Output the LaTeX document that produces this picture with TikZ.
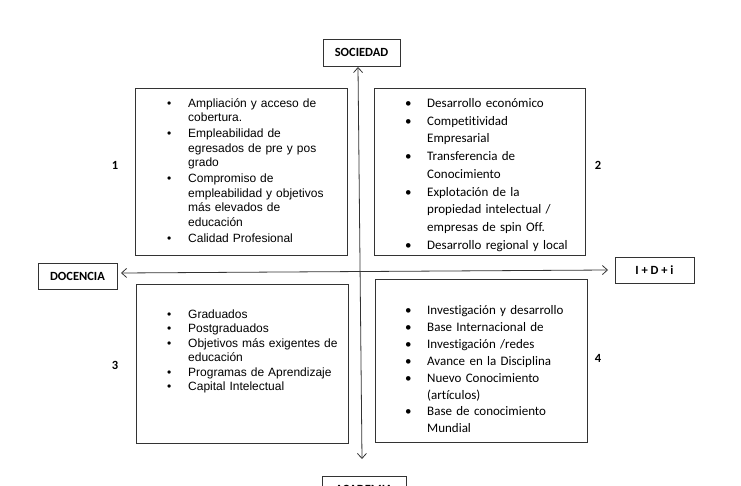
\documentclass[tikz,border=0pt]{standalone}
\usepackage{fontspec}
\usetikzlibrary{arrows.meta}
\newfontfamily\arialf{Liberation Sans}
\newfontfamily\calf[Ligatures=NoCommon]{Carlito}
\newcommand{\bulA}{\makebox[21pt][l]{•}}
\newcommand{\indA}{\hspace*{21pt}}
\newcommand{\bulC}{\makebox[22pt][l]{•}}
\newcommand{\indC}{\hspace*{22pt}}
\tikzset{
  frame/.style={draw=black!80, line width=0.9pt, inner sep=0pt},
  label/.style={draw=black!80, line width=0.9pt, inner sep=0pt,
    font=\calf\bfseries\fontsize{12.5}{14}\selectfont},
  num/.style={inner sep=0pt, font=\calf\bfseries\fontsize{12.5}{14}\selectfont},
  listA/.style={inner sep=0pt, anchor=base west, text width=200pt, align=left,
    font=\arialf\fontsize{12}{14.5}\selectfont},
  listC/.style={inner sep=0pt, anchor=base west, text width=200pt, align=left,
    font=\calf\fontsize{13}{17.75}\selectfont},
  axis/.style={draw=black!80, line width=0.8pt,
    {Straight Barb[length=5pt,width=9pt]}-{Straight Barb[length=5pt,width=9pt]}}
}
\begin{document}
\begin{tikzpicture}[x=1pt,y=-1pt]
\useasboundingbox (0,0) rectangle (741,486);
\clip (0,0) rectangle (741,486);
% quadrant frames
\node[frame, minimum width=212pt, minimum height=167pt] (q1) at (241,171.5) {};
\node[frame, minimum width=211pt, minimum height=167pt] (q2) at (479.5,171.5) {};
\node[frame, minimum width=212pt, minimum height=159pt] (q3) at (242,363.5) {};
\node[frame, minimum width=212pt, minimum height=163pt] (q4) at (481,360.5) {};
% axis labels
\node[label, minimum width=77pt, minimum height=27pt] (soc) at (361.5,52.5) {SOCIEDAD};
\node[label, minimum width=79pt, minimum height=26pt] (doc) at (77.5,276) {DOCENCIA};
\node[label, minimum width=79pt, minimum height=26pt] (idi) at (654.5,270) {I + D + i};
\node[label, minimum width=84pt, minimum height=27pt] (aca) at (364,489.5) {ACADEMIA};
% axes
\coordinate (hl) at (121,273);
\coordinate (hr) at (608,270);
\coordinate (vt) at (358,67);
\coordinate (vb) at (362,459);
\draw[axis] (hl) -- (hr);
\draw[axis] (vt) -- (vb);
% numbers
\node[num] (n1) at (115,165) {1};
\node[num] (n2) at (598,165) {2};
\node[num] (n3) at (115,365) {3};
\node[num] (n4) at (598,358) {4};
% lists
\node[listA] (t1) at (167,107.5) {\bulA Ampliación y acceso de\\
\indA cobertura.\\[1.5pt]
\bulA Empleabilidad de\\
\indA egresados de pre y pos\\
\indA grado\\[1.5pt]
\bulA Compromiso de\\
\indA empleabilidad y objetivos\\
\indA más elevados de\\
\indA educación\\[1.5pt]
\bulA Calidad Profesional};
\node[listC] (t2) at (405,107.5) {\bulC Desarrollo económico\\
\bulC Competitividad\\
\indC Empresarial\\
\bulC Transferencia de\\
\indC Conocimiento\\
\bulC Explotación de la\\
\indC propiedad intelectual /\\
\indC empresas de spin Off.\\
\bulC Desarrollo regional y local};
\node[listA, font=\arialf\fontsize{12}{14.4}\selectfont] (t3) at (167,318.5) {\bulA Graduados\\
\bulA Postgraduados\\
\bulA Objetivos más exigentes de\\
\indA educación\\
\bulA Programas de Aprendizaje\\
\bulA Capital Intelectual};
\node[listC, font=\calf\fontsize{13}{16.9}\selectfont] (t4) at (405,314.5) {\bulC Investigación y desarrollo\\
\bulC Base Internacional de\\
\bulC Investigación /redes\\
\bulC Avance en la Disciplina\\
\bulC Nuevo Conocimiento\\
\indC (artículos)\\
\bulC Base de conocimiento\\
\indC Mundial};
\end{tikzpicture}
\end{document}
